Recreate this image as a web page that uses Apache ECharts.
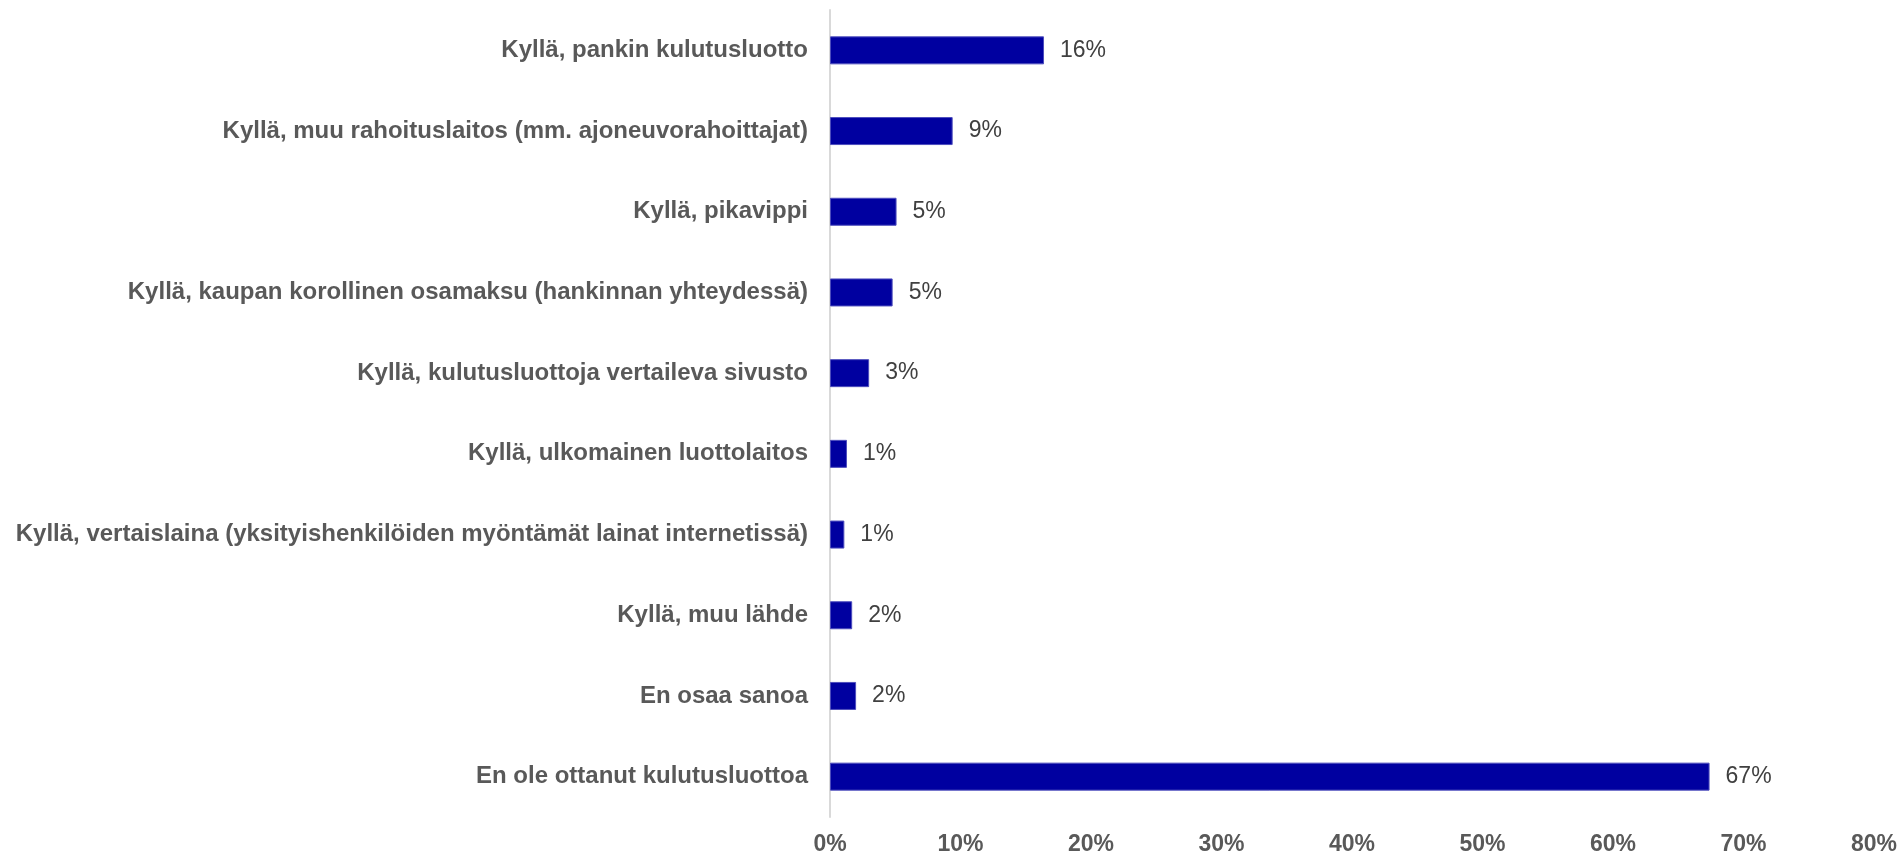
<!DOCTYPE html>
<html>
<head>
<meta charset="utf-8">
<script src="https://cdn.jsdelivr.net/npm/echarts@6/dist/echarts.min.js"></script>
<style>
  html, body { margin: 0; padding: 0; background: #fff; }
  #chart { width: 1904px; height: 857px; }
</style>
</head>
<body>
<div id="chart"></div>
<script>
// vastausvaihtoehdot ylhäältä alas
var categories = [
  'Kyllä, pankin kulutusluotto',
  'Kyllä, muu rahoituslaitos (mm. ajoneuvorahoittajat)',
  'Kyllä, pikavippi',
  'Kyllä, kaupan korollinen osamaksu (hankinnan yhteydessä)',
  'Kyllä, kulutusluottoja vertaileva sivusto',
  'Kyllä, ulkomainen luottolaitos',
  'Kyllä, vertaislaina (yksityishenkilöiden myöntämät lainat internetissä)',
  'Kyllä, muu lähde',
  'En osaa sanoa',
  'En ole ottanut kulutusluottoa'
];
// osuudet prosentteina (luettu kuvasta)
var values = [16.4, 9.4, 5.1, 4.8, 3.0, 1.3, 1.1, 1.7, 2.0, 67.4];
var xTicks = [0, 10, 20, 30, 40, 50, 60, 70, 80];

var font = 'Arial, "Liberation Sans", "DejaVu Sans", sans-serif';

var myChart = echarts.init(document.getElementById('chart'));
myChart.setOption({
  animation: false,
  grid: {
    left: 830,
    right: 30,
    top: 10,
    bottom: 40
  },
  xAxis: {
    type: 'value',
    min: xTicks[0],
    max: xTicks[xTicks.length - 1],
    interval: xTicks[1] - xTicks[0],
    splitLine: { show: false },
    axisLine: { show: false },
    axisTick: { show: false },
    axisLabel: {
      formatter: '{value}%',
      fontFamily: font,
      fontWeight: 'bold',
      fontSize: 23,
      color: '#595959',
      margin: 16
    }
  },
  yAxis: {
    type: 'category',
    data: categories,
    inverse: true,
    axisLine: { show: true, lineStyle: { color: '#d9d9d9', width: 2 } },
    axisTick: { show: false },
    axisLabel: {
      fontFamily: font,
      fontWeight: 'bold',
      fontSize: 24,
      color: '#595959',
      margin: 22
    }
  },
  series: [{
    type: 'bar',
    data: values,
    barWidth: 28,
    itemStyle: {
      color: '#0000a0',
      borderColor: '#4d4dbd',
      borderWidth: 1
    },
    label: {
      show: true,
      position: 'right',
      distance: 16,
      formatter: function (p) { return Math.round(p.value) + '%'; },
      fontFamily: font,
      fontSize: 23,
      color: '#404040'
    }
  }]
});
</script>
</body>
</html>
